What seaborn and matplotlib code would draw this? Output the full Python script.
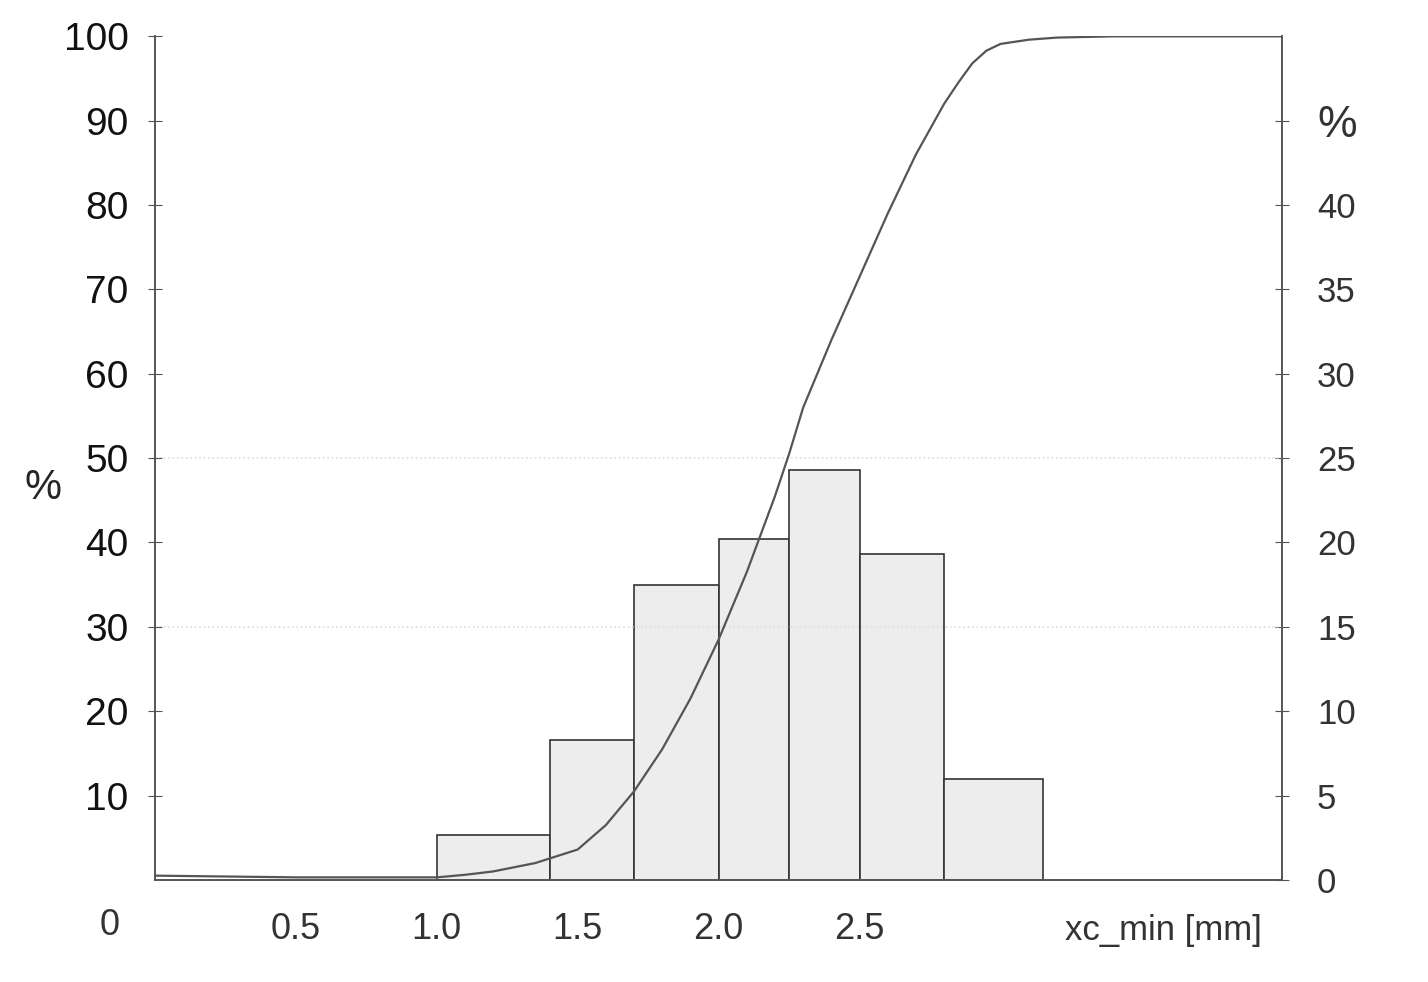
import numpy as np
import matplotlib
matplotlib.use('Agg')
import matplotlib.pyplot as plt
import seaborn as sns

# histogram classes (mm) and class share (% on right axis)
bin_edges = [1.0, 1.4, 1.7, 2.0, 2.25, 2.5, 2.8, 3.15]
bin_share = [2.65, 8.3, 17.5, 20.2, 24.3, 19.3, 6.0]

# cumulative curve (% on left axis)
cum_x = [0.0, 0.5, 1.0, 1.1, 1.2, 1.35, 1.5, 1.6, 1.7, 1.8, 1.9, 2.0, 2.1, 2.2, 2.25,
         2.3, 2.4, 2.5, 2.6, 2.7, 2.8, 2.85, 2.9, 2.95, 3.0, 3.1, 3.2, 3.4, 4.0]
cum_y = [0.5, 0.3, 0.3, 0.6, 1.0, 2.0, 3.6, 6.5, 10.5, 15.5, 21.5, 28.5, 36.5, 45.5, 50.5,
         56, 64, 71.5, 79, 86, 92, 94.5, 96.8, 98.3, 99.1, 99.6, 99.85, 100, 100]

sns.set_style('white')
plt.rcParams['font.family'] = ['Liberation Sans', 'DejaVu Sans']

fig = plt.figure(figsize=(14.28, 9.82), dpi=100)
ax = fig.add_axes([0.1085, 0.104, 0.7895, 0.859])
ax2 = ax.twinx()

centers = [(a + b) / 2 for a, b in zip(bin_edges[:-1], bin_edges[1:])]
sns.histplot(x=centers, weights=bin_share, bins=bin_edges, ax=ax2,
             color='#ededed', edgecolor='#333333', linewidth=1.2, alpha=1)
sns.lineplot(x=cum_x, y=cum_y, ax=ax, color='#555555', linewidth=1.6)
ax.set_zorder(ax2.get_zorder() + 1)
ax.patch.set_visible(False)

# faint dotted grid
for yv in [50, 30]:
    ax.axhline(yv, color='#dddddd', linestyle=':', linewidth=1.2, zorder=0)

ax.set_xlim(0, 4.0)
ax.set_ylim(0, 100)
ax2.set_ylim(0, 50)

ax.set_xticks([0.5, 1.0, 1.5, 2.0, 2.5, 3.0, 3.5, 4.0])
ax.set_xticklabels(['0.5', '1.0', '1.5', '2.0', '2.5', '', '', ''], fontsize=26, color='#333333')
ax.set_yticks(range(10, 101, 10))
ax.set_yticklabels([str(v) for v in range(10, 101, 10)], fontsize=28, color='#111111')
ax2.set_yticks(range(0, 46, 5))
labels = [str(v) for v in range(0, 41, 5)] + ['%']
ax2.set_yticklabels(labels, fontsize=25, color='#333333')
ax2.get_yticklabels()[-1].set_fontsize(32)

ax.tick_params(axis='both', direction='inout', length=10, color='#555555')
ax2.tick_params(axis='y', direction='inout', length=10, color='#555555')
ax.tick_params(axis='x', pad=18)
ax.tick_params(axis='y', pad=14)
ax2.tick_params(axis='y', pad=20)

ax.set_ylabel('')
ax2.set_ylabel('')
for a in (ax, ax2):
    a.spines['top'].set_visible(False)
    for s in ['left', 'right', 'bottom']:
        a.spines[s].set_color('#555555')
        a.spines[s].set_linewidth(1.2)

fig.text(0.03, 0.503, '%', fontsize=30, ha='center', va='center')
fig.text(0.077, 0.058, '0', fontsize=26, ha='center', va='center', color='#333333')
fig.text(0.815, 0.052, 'xc_min [mm]', fontsize=25, ha='center', va='center', color='#333333')

fig.savefig('out.png', dpi=100)
